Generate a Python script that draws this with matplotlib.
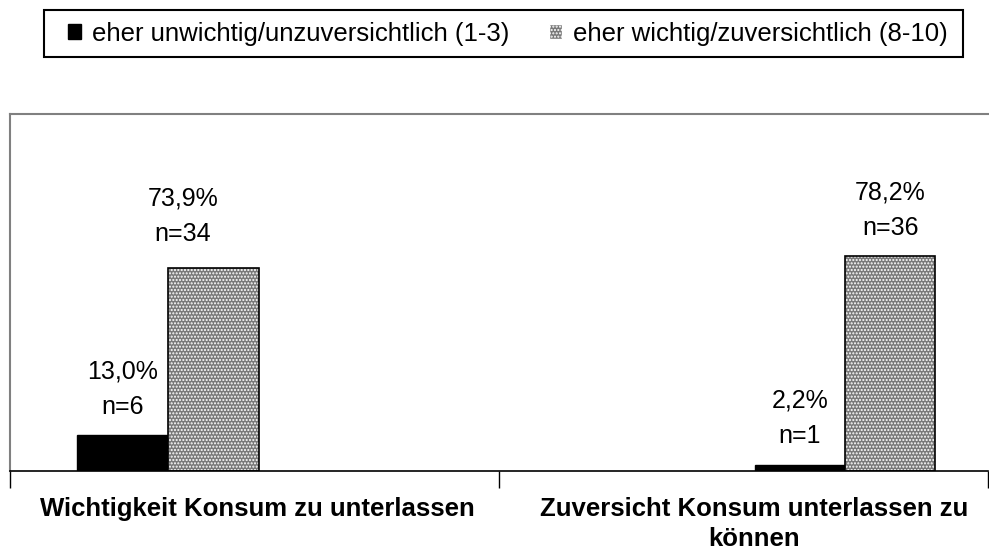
import numpy as np
import matplotlib.pyplot as plt
from matplotlib.patches import Patch, Rectangle

plt.rcParams['font.family'] = ['Liberation Sans', 'DejaVu Sans']

categories = ['Wichtigkeit Konsum zu unterlassen', 'Zuversicht Konsum unterlassen zu\nkönnen']
series = ['eher unwichtig/unzuversichtlich (1-3)', 'eher wichtig/zuversichtlich (8-10)']
low_pct = [13.0, 2.2]
low_n = [6, 1]
high_pct = [73.9, 78.2]
high_n = [34, 36]

# bar offsets per category (the original chart places them unevenly)
low_off = [-0.2705, 0.115]
high_off = [-0.084, 0.30]
label_off = [0.006, 0.0225]
# nudges of the value labels, in points
low_dx = [0, 0]
high_dx = [-22, 0]
low_dy = [12, 12]
high_dy = [16, 12]
width = 0.185

fig = plt.figure(figsize=(9.89, 5.56), dpi=100)
ax = fig.add_axes([0.0101, 0.1529, 0.9889, 0.6421])

x = np.arange(len(categories))
ax.bar(x + np.array(low_off), low_pct, width, color='black', edgecolor='black', linewidth=1)
# checkered grey fill
ax.bar(x + np.array(high_off), high_pct, width, color='#787878', edgecolor='white',
       hatch='.....', linewidth=0)
ax.bar(x + np.array(high_off), high_pct, width, fill=False, edgecolor='black', linewidth=1.2)


def lab(p, n):
    return f"{p:.1f}%".replace('.', ',') + f"\nn={n}"


for offs, vals, ns, dxs, dys in [(low_off, low_pct, low_n, low_dx, low_dy),
                                 (high_off, high_pct, high_n, high_dx, high_dy)]:
    for xi, p, n, dx, dy in zip(x + np.array(offs), vals, ns, dxs, dys):
        ax.annotate(lab(p, n), (xi, p), xytext=(dx, dy), textcoords='offset points',
                    ha='center', va='bottom', fontsize=18, linespacing=1.6)

ax.set_xlim(-0.5, 1.5)
ax.set_ylim(0, 130)
ax.set_yticks([])
ax.set_xticks([-0.5, 0.5, 1.5])
ax.set_xticklabels([])
ax.tick_params(axis='x', length=12, width=1, direction='out')
for xi, c in zip(x + np.array(label_off), categories):
    ax.annotate(c, (xi, 0), xycoords=('data', 'axes fraction'), xytext=(0, -19),
                textcoords='offset points', ha='center', va='top', fontsize=18.5,
                fontweight='bold', linespacing=1.3)

ax.spines['top'].set_color('#808080')
ax.spines['left'].set_color('#808080')
ax.spines['top'].set_linewidth(1.5)
ax.spines['left'].set_linewidth(1.5)
ax.spines['right'].set_visible(False)
ax.spines['bottom'].set_linewidth(1.2)

handles = [Patch(facecolor='black', edgecolor='black'),
           Patch(facecolor='#787878', edgecolor='white', hatch='.....')]
leg = fig.legend(handles, series, loc='center left', bbox_to_anchor=(68 / 989, 1 - 33.5 / 556),
                 ncol=2, fontsize=18.5, frameon=False, handlelength=0.5, handleheight=0.5,
                 handletextpad=0.43, columnspacing=1.55, borderpad=0, borderaxespad=0)
fig.patches.append(Rectangle((44 / 989, 1 - 57 / 556), 919 / 989, 47 / 556,
                             transform=fig.transFigure, fill=False, edgecolor='black',
                             linewidth=1.5))

fig.savefig('out.png', dpi=100)
